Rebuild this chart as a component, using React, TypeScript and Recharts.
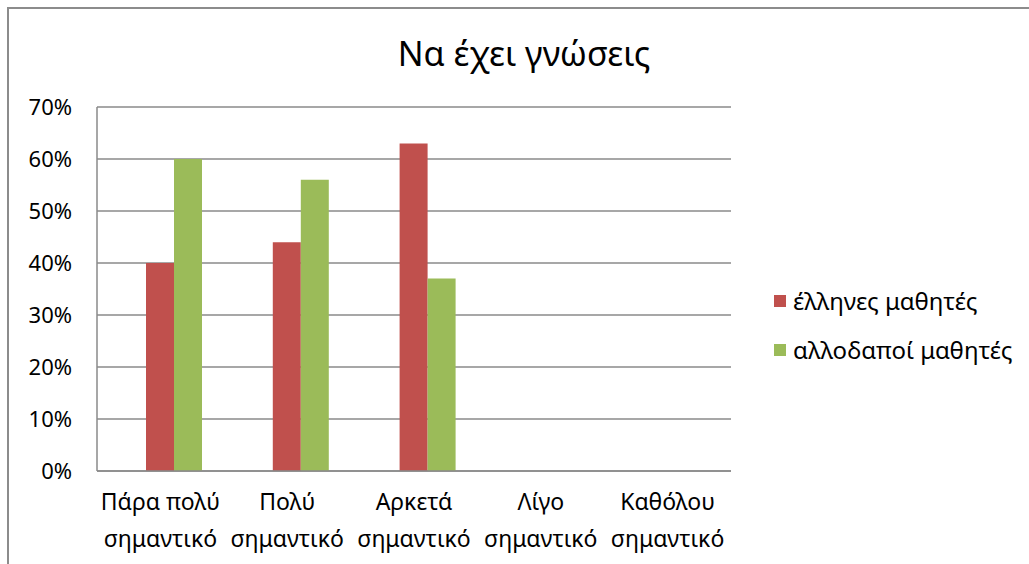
import React from 'react';
import { BarChart, Bar, XAxis, YAxis, CartesianGrid } from 'recharts';

const categories = [
  'Πάρα πολύ\nσημαντικό',
  'Πολύ\nσημαντικό',
  'Αρκετά\nσημαντικό',
  'Λίγο\nσημαντικό',
  'Καθόλου\nσημαντικό',
];
// first (empty) series of the original sheet, keeps the bars off-centre like Excel did
const emptySeries = [0, 0, 0, 0, 0];
const greekStudents = [0.4, 0.44, 0.63, 0, 0];
const foreignStudents = [0.6, 0.56, 0.37, 0, 0];
const yTicks = [0, 0.1, 0.2, 0.3, 0.4, 0.5, 0.6, 0.7];

const seriesNames = ['έλληνες μαθητές', 'αλλοδαποί μαθητές'];
const seriesColors = ['#C0504D', '#9BBB59'];

const FONT = '"Noto Sans", "Open Sans", sans-serif';
const GRID = '#8a8a8a';

const data = categories.map((c, i) => ({
  name: c,
  blank: emptySeries[i],
  greek: greekStudents[i],
  foreign: foreignStudents[i],
}));

function CategoryTick({ x, y, payload }: any) {
  const lines = String(payload.value).split('\n');
  return (
    <text x={x} y={y} textAnchor="middle" fontFamily={FONT} fontSize={23} fill="#000">
      {lines.map((l, i) => (
        <tspan key={i} x={x} dy={i === 0 ? 31 : 37}>
          {l}
        </tspan>
      ))}
    </text>
  );
}

export default function App() {
  return (
    <div style={{ position: 'absolute', left: 0, top: 0, width: 1029, height: 564, overflow: 'hidden', background: '#fff' }}>
      <div
        style={{
          position: 'absolute',
          left: 7,
          top: 7,
          width: 1040,
          height: 580,
          borderLeft: '2px solid #8c8c8c',
          borderTop: '2px solid #8c8c8c',
        }}
      />
      <div
        style={{
          position: 'absolute',
          left: 0,
          width: 1048,
          top: 30,
          lineHeight: '46px',
          textAlign: 'center',
          fontFamily: FONT,
          fontSize: 34,
          color: '#000',
        }}
      >
        Να έχει γνώσεις
      </div>
      <div style={{ position: 'absolute', left: 0, top: 0 }}>
        <BarChart
          width={1029}
          height={564}
          data={data}
          margin={{ top: 107, right: 298, bottom: 0, left: 17 }}
          barSize={28}
          barGap={0}
        >
          <CartesianGrid vertical={false} stroke={GRID} strokeWidth={1.5} />
          <XAxis
            dataKey="name"
            height={93}
            tick={<CategoryTick />}
            tickLine={false}
            axisLine={{ stroke: GRID, strokeWidth: 1.5 }}
            interval={0}
          />
          <YAxis
            width={80}
            domain={[0, 0.7]}
            ticks={yTicks}
            tickFormatter={(v: number) => `${Math.round(v * 100)}%`}
            tick={{ fontFamily: FONT, fontSize: 22, fill: '#000' }}
            tickLine={false}
            tickSize={0}
            tickMargin={25}
            axisLine={{ stroke: GRID, strokeWidth: 1.5 }}
          />
          <Bar dataKey="blank" legendType="none" fill="transparent" isAnimationActive={false} />
          <Bar dataKey="greek" name={seriesNames[0]} fill={seriesColors[0]} isAnimationActive={false} />
          <Bar dataKey="foreign" name={seriesNames[1]} fill={seriesColors[1]} isAnimationActive={false} />
        </BarChart>
      </div>
      <div style={{ position: 'absolute', left: 774, top: 276, fontFamily: FONT, fontSize: 24, color: '#000' }}>
        {seriesNames.map((n, i) => (
          <div key={n} style={{ display: 'flex', alignItems: 'center', height: 49, whiteSpace: 'nowrap' }}>
            <span
              style={{
                display: 'inline-block',
                width: 12,
                height: 12,
                background: seriesColors[i],
                marginRight: 7,
              }}
            />
            <span>{n}</span>
          </div>
        ))}
      </div>
    </div>
  );
}
